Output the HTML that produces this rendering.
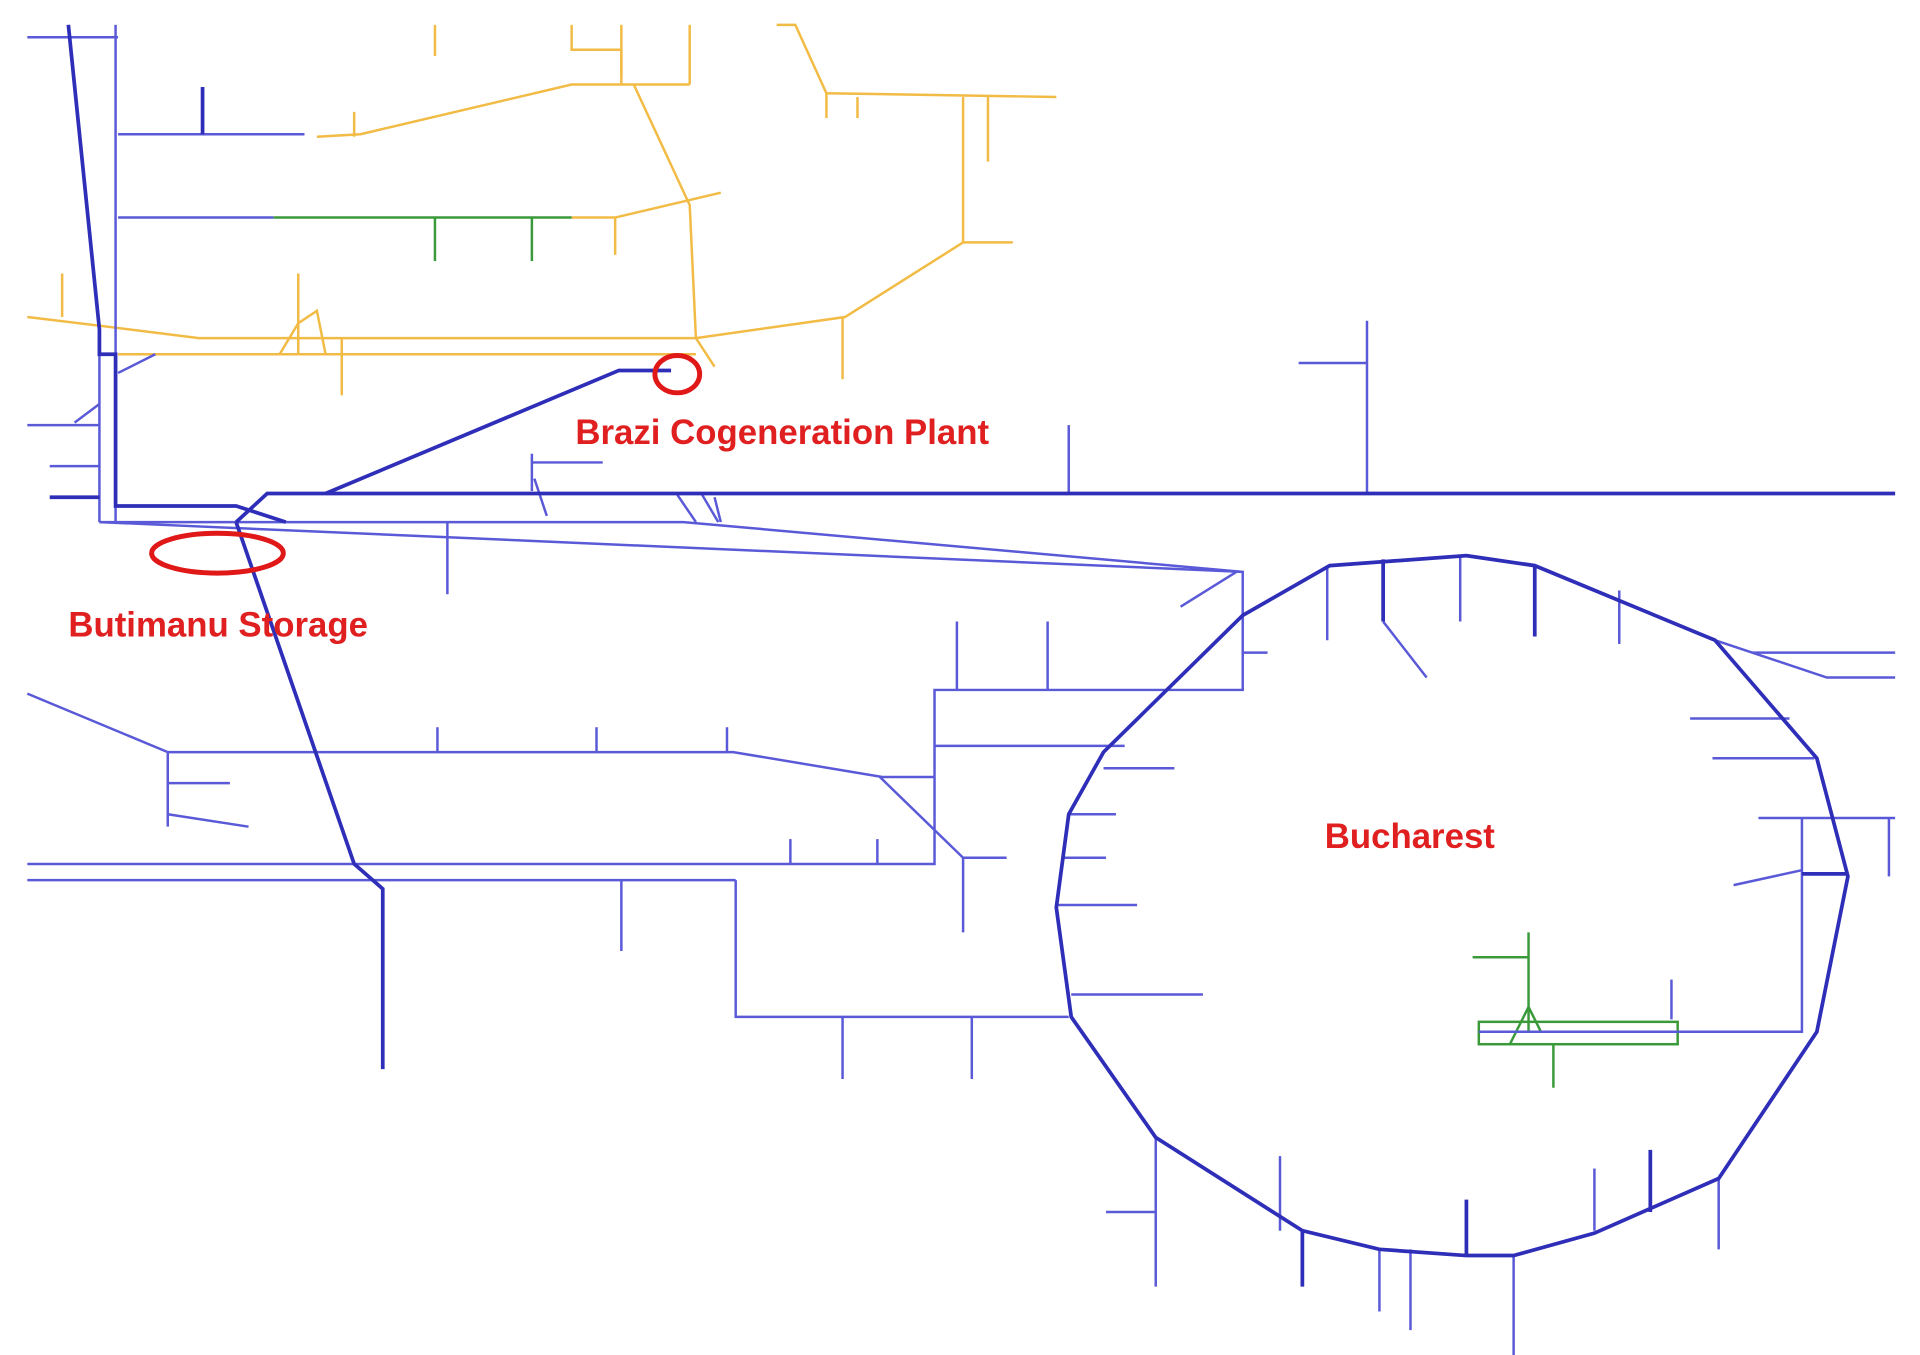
<!DOCTYPE html>
<html><head><meta charset="utf-8"><style>
html,body{margin:0;padding:0;background:#fff;width:1920px;height:1355px;overflow:hidden}
svg{display:block}
text{font-family:"Liberation Sans",sans-serif;font-weight:bold;fill:#e02020;font-size:28px}
</style></head><body>
<svg width="1920" height="1355" viewBox="0 0 1545 1090" preserveAspectRatio="none">
<g fill="none" stroke="#f2bb45" stroke-width="2">
<polyline points="22,255 80,262 160,272 560,272"/>
<polyline points="95,285 560,285"/>
<polyline points="255,110 290,108 460,68 555,68"/>
<polyline points="460,20 460,40 500,40 500,68"/>
<line x1="500" y1="20" x2="500" y2="60"/><line x1="555" y1="20" x2="555" y2="68"/>
<line x1="350" y1="20" x2="350" y2="45"/>
<polyline points="625,20 640,20 665,75 850,78"/>
<line x1="665" y1="75" x2="665" y2="95"/><line x1="690" y1="78" x2="690" y2="95"/>
<polyline points="775,78 775,195 680,255 560,272"/>
<line x1="795" y1="78" x2="795" y2="130"/><line x1="775" y1="195" x2="815" y2="195"/>
<polyline points="510,68 555,165 560,272"/>
<polyline points="460,175 495,175 580,155"/>
<line x1="495" y1="175" x2="495" y2="205"/>
<line x1="285" y1="90" x2="285" y2="110"/>
<line x1="678" y1="255" x2="678" y2="305"/>
<line x1="240" y1="220" x2="240" y2="285"/><line x1="50" y1="220" x2="50" y2="255"/>
<polyline points="225,285 240,260 255,250 262,285"/>
<line x1="275" y1="272" x2="275" y2="318"/>
<line x1="560" y1="272" x2="575" y2="295"/>
</g>
<g fill="none" stroke="#3a9a3a" stroke-width="2">
<line x1="220" y1="175" x2="460" y2="175"/>
<line x1="350" y1="175" x2="350" y2="210"/><line x1="428" y1="175" x2="428" y2="210"/>
<line x1="1185" y1="770" x2="1230" y2="770"/><line x1="1230" y1="750" x2="1230" y2="830"/>
<rect x="1190" y="822" width="160" height="18"/>
<line x1="1250" y1="840" x2="1250" y2="875"/>
<polyline points="1215,840 1230,810 1240,830"/>
</g>
<g fill="none" stroke="#5a5ad8" stroke-width="2">
<line x1="22" y1="30" x2="95" y2="30"/><line x1="93" y1="20" x2="93" y2="420"/>
<line x1="95" y1="108" x2="245" y2="108"/><line x1="95" y1="175" x2="220" y2="175"/>
<line x1="80" y1="265" x2="80" y2="420"/>
<line x1="22" y1="342" x2="80" y2="342"/><line x1="40" y1="375" x2="80" y2="375"/>
<line x1="60" y1="340" x2="80" y2="325"/>
<line x1="95" y1="300" x2="125" y2="285"/>
<line x1="80" y1="420" x2="1000" y2="460"/>
<polyline points="80,420 550,420 1000,460 1000,555 770,555 752,555 752,695 22,695"/>
<line x1="22" y1="708" x2="592" y2="708"/>
<polyline points="592,708 592,818 860,818"/>
<line x1="678" y1="818" x2="678" y2="868"/><line x1="782" y1="818" x2="782" y2="868"/>
<line x1="360" y1="420" x2="360" y2="478"/>
<line x1="428" y1="365" x2="428" y2="395"/><line x1="428" y1="372" x2="485" y2="372"/>
<line x1="430" y1="385" x2="440" y2="415"/>
<line x1="545" y1="398" x2="560" y2="420"/><line x1="565" y1="398" x2="578" y2="420"/>
<line x1="860" y1="342" x2="860" y2="398"/>
<line x1="1045" y1="292" x2="1100" y2="292"/><line x1="1100" y1="258" x2="1100" y2="398"/>
<line x1="22" y1="558" x2="135" y2="605"/>
<polyline points="135,605 590,605 710,625 752,625"/>
<line x1="135" y1="605" x2="135" y2="665"/><line x1="135" y1="630" x2="185" y2="630"/>
<line x1="135" y1="655" x2="200" y2="665"/>
<line x1="352" y1="585" x2="352" y2="605"/><line x1="480" y1="585" x2="480" y2="605"/><line x1="585" y1="585" x2="585" y2="605"/>
<line x1="708" y1="625" x2="775" y2="690"/><line x1="775" y1="690" x2="775" y2="750"/><line x1="775" y1="690" x2="810" y2="690"/>
<line x1="636" y1="675" x2="636" y2="695"/><line x1="706" y1="675" x2="706" y2="695"/>
<line x1="752" y1="600" x2="905" y2="600"/>
<line x1="770" y1="500" x2="770" y2="555"/><line x1="843" y1="500" x2="843" y2="555"/>
<line x1="950" y1="488" x2="995" y2="460"/><line x1="1000" y1="525" x2="1020" y2="525"/>
<line x1="500" y1="708" x2="500" y2="765"/>
<line x1="860" y1="655" x2="898" y2="655"/><line x1="855" y1="690" x2="890" y2="690"/>
<line x1="850" y1="728" x2="915" y2="728"/><line x1="862" y1="800" x2="968" y2="800"/>
<line x1="888" y1="618" x2="945" y2="618"/>
<line x1="1068" y1="455" x2="1068" y2="515"/><line x1="1175" y1="448" x2="1175" y2="500"/>
<line x1="1303" y1="475" x2="1303" y2="518"/><line x1="1113" y1="500" x2="1148" y2="545"/>
<polyline points="1380,515 1470,545 1525,545"/><line x1="1410" y1="525" x2="1525" y2="525"/>
<line x1="1360" y1="578" x2="1440" y2="578"/><line x1="1378" y1="610" x2="1460" y2="610"/>
<line x1="1415" y1="658" x2="1525" y2="658"/><line x1="1520" y1="658" x2="1520" y2="705"/>
<polyline points="1450,658 1450,830 1190,830"/>
<line x1="1395" y1="712" x2="1450" y2="700"/>
<line x1="1345" y1="788" x2="1345" y2="820"/>
<line x1="890" y1="975" x2="930" y2="975"/><line x1="930" y1="915" x2="930" y2="1035"/>
<line x1="1030" y1="930" x2="1030" y2="990"/><line x1="1110" y1="1005" x2="1110" y2="1055"/>
<line x1="1135" y1="1005" x2="1135" y2="1070"/><line x1="1218" y1="1010" x2="1218" y2="1090"/>
<line x1="1283" y1="940" x2="1283" y2="990"/><line x1="1383" y1="948" x2="1383" y2="1005"/>
<line x1="580" y1="420" x2="575" y2="400"/>
</g>
<g fill="none" stroke="#2e2eb8" stroke-width="3">
<polyline points="55,20 80,265 80,285 93,285 93,407 190,407 230,420"/>
<polyline points="190,420 215,397 1525,397"/>
<polyline points="262,397 498,298 540,298"/>
<polyline points="190,420 285,695 308,715 308,860"/>
<polygon points="1070,455 1180,447 1235,455 1380,515 1462,610 1487,705 1462,830 1383,948 1283,992 1218,1010 1180,1010 1110,1005 1048,990 930,915 862,818 850,730 860,655 888,605 1000,495 1070,455"/>
<line x1="1113" y1="450" x2="1113" y2="500"/><line x1="1235" y1="455" x2="1235" y2="512"/>
<line x1="1450" y1="703" x2="1487" y2="703"/>
<line x1="1180" y1="965" x2="1180" y2="1010"/><line x1="1328" y1="925" x2="1328" y2="975"/>
<line x1="1048" y1="990" x2="1048" y2="1035"/>
<line x1="163" y1="70" x2="163" y2="108"/>
<line x1="40" y1="400" x2="80" y2="400"/>
</g>
<g fill="none" stroke="#e01818" stroke-width="4">
<ellipse cx="545" cy="301" rx="18" ry="15"/>
<ellipse cx="175" cy="445" rx="53" ry="16"/>
</g>
<text x="463" y="357">Brazi Cogeneration Plant</text>
<text x="55" y="512">Butimanu Storage</text>
<text x="1066" y="682">Bucharest</text>
</svg>
</body></html>
